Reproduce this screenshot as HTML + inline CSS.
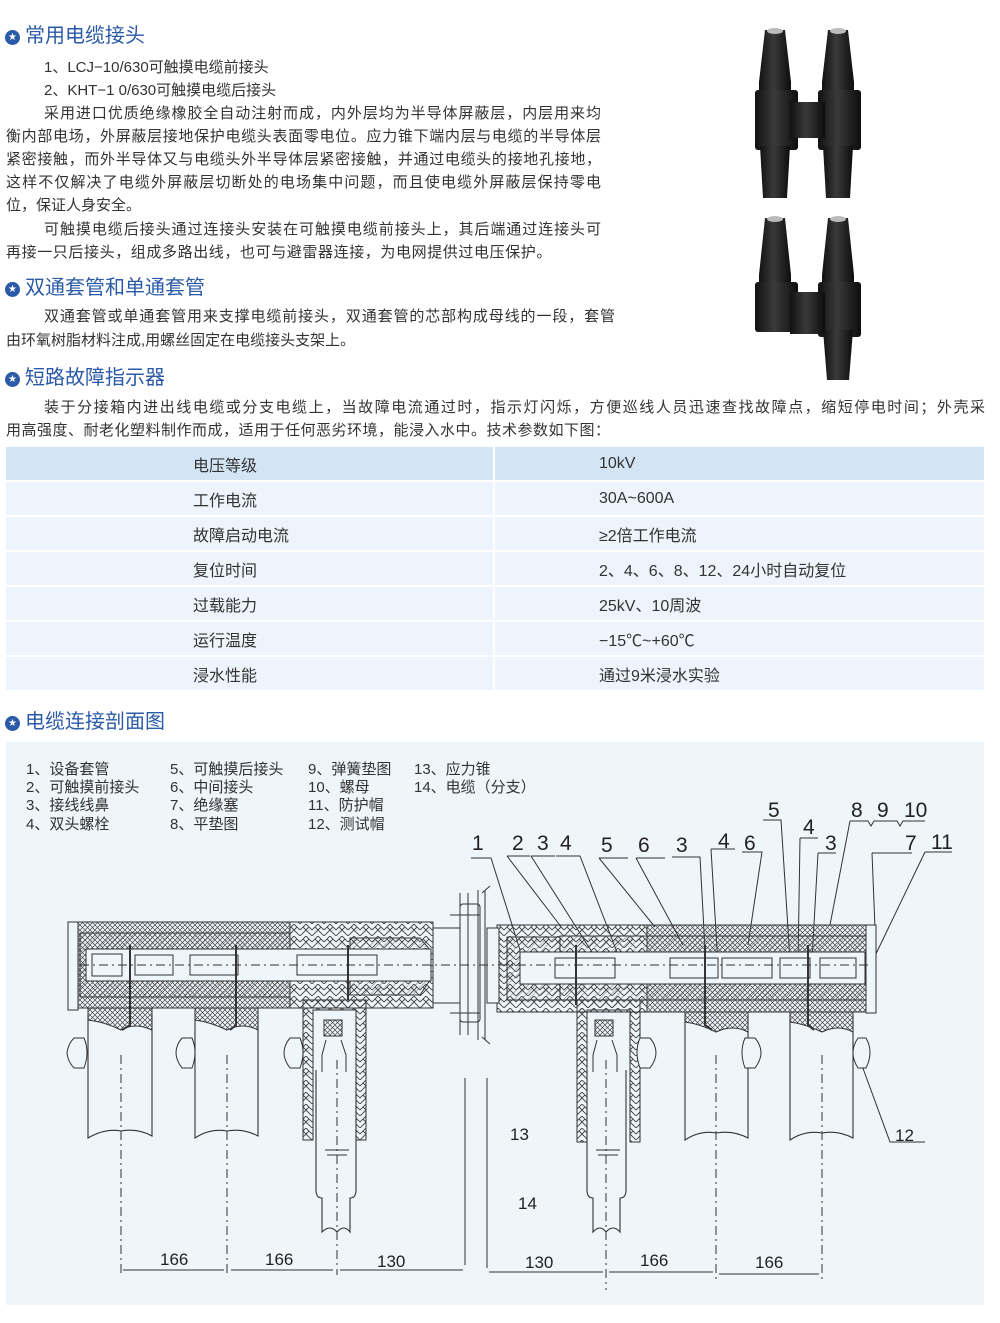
<!DOCTYPE html>
<html><head><meta charset="utf-8">
<style>
body{margin:0;background:#fff;width:1000px;height:1323px;overflow:hidden;position:relative;font-family:"Liberation Sans","Noto Sans CJK SC",sans-serif;color:#333;}
.h{position:absolute;left:5px;font-size:20px;color:#2b5aa8;line-height:24px;white-space:nowrap}
.h i{display:inline-block;width:15px;height:15px;border-radius:50%;background:#2b5aa8;color:#fff;font-style:normal;font-size:10px;line-height:15px;text-align:center;vertical-align:2px;margin-right:5px;font-family:"DejaVu Sans",sans-serif}
.l{position:absolute;font-size:15px;line-height:20px;white-space:nowrap}
.j{text-align:justify;text-align-last:justify;white-space:normal}
table{position:absolute;left:6px;top:447px;width:978px;border-collapse:collapse;font-size:16px;color:#333}
td{height:33px;background:#edf4fb;border-bottom:2px solid #fff;padding:0}
td.a{width:488px;border-right:2px solid #fff;padding-left:187px;box-sizing:border-box}
td.b{padding-left:104px}
tr.f td{background:#d3e4f5}
</style></head><body>
<div class="h" style="top:24px"><i>★</i>常用电缆接头</div>
<div class="l" style="left:44px;top:58px">1、LCJ−10/630可触摸电缆前接头</div>
<div class="l" style="left:44px;top:81px">2、KHT−1 0/630可触摸电缆后接头</div>
<div class="l j" style="left:44px;top:104px;width:557px">采用进口优质绝缘橡胶全自动注射而成，内外层均为半导体屏蔽层，内层用来均</div>
<div class="l j" style="left:6px;top:127px;width:595px">衡内部电场，外屏蔽层接地保护电缆头表面零电位。应力锥下端内层与电缆的半导体层</div>
<div class="l j" style="left:6px;top:150px;width:595px">紧密接触，而外半导体又与电缆头外半导体层紧密接触，并通过电缆头的接地孔接地，</div>
<div class="l j" style="left:6px;top:173px;width:595px">这样不仅解决了电缆外屏蔽层切断处的电场集中问题，而且使电缆外屏蔽层保持零电</div>
<div class="l" style="left:6px;top:196px">位，保证人身安全。</div>
<div class="l j" style="left:44px;top:220px;width:557px">可触摸电缆后接头通过连接头安装在可触摸电缆前接头上，其后端通过连接头可</div>
<div class="l" style="left:6px;top:243px;letter-spacing:0.6px">再接一只后接头，组成多路出线，也可与避雷器连接，为电网提供过电压保护。</div>
<div class="h" style="top:276px"><i>★</i>双通套管和单通套管</div>
<div class="l j" style="left:44px;top:307px;width:571px">双通套管或单通套管用来支撑电缆前接头，双通套管的芯部构成母线的一段，套管</div>
<div class="l" style="left:6px;top:331px">由环氧树脂材料注成,用螺丝固定在电缆接头支架上。</div>
<div class="h" style="top:366px"><i>★</i>短路故障指示器</div>
<div class="l j" style="left:44px;top:398px;width:941px">装于分接箱内进出线电缆或分支电缆上，当故障电流通过时，指示灯闪烁，方便巡线人员迅速查找故障点，缩短停电时间；外壳采</div>
<div class="l" style="left:6px;top:421px;letter-spacing:0.5px">用高强度、耐老化塑料制作而成，适用于任何恶劣环境，能浸入水中。技术参数如下图：</div>

<svg style="position:absolute;left:745px;top:20px" width="130" height="370" viewBox="0 0 130 370">
<defs><linearGradient id="g" x1="0" x2="1"><stop offset="0" stop-color="#111"/><stop offset=".45" stop-color="#3a3a3a"/><stop offset="1" stop-color="#0d0d0d"/></linearGradient></defs>
<g fill="url(#g)">
<path d="M20 10 L40 10 L46 62 L46 75 L14 75 L14 62 Z"/><path d="M83 10 L103 10 L109 62 L109 75 L77 75 L77 62 Z"/>
<rect x="10" y="70" width="43" height="60" rx="3"/><rect x="73" y="70" width="43" height="60" rx="3"/>
<rect x="45" y="82" width="35" height="36"/>
<path d="M15 126 L45 126 L42 178 L18 178 Z"/><path d="M78 126 L108 126 L105 178 L81 178 Z"/>
<path d="M20 198 L40 198 L46 255 L46 265 L14 265 L14 255 Z"/><path d="M83 198 L103 198 L109 255 L109 265 L77 265 L77 255 Z"/>
<rect x="10" y="262" width="43" height="50" rx="3"/><rect x="73" y="262" width="43" height="55" rx="3"/>
<rect x="45" y="272" width="35" height="42"/>
<path d="M78 310 L108 310 L104 360 L82 360 Z"/>
</g>
<ellipse cx="30" cy="11" rx="8" ry="3" fill="#bbb"/><ellipse cx="93" cy="11" rx="8" ry="3" fill="#bbb"/>
<ellipse cx="30" cy="199" rx="8" ry="3" fill="#bbb"/><ellipse cx="93" cy="199" rx="8" ry="3" fill="#bbb"/>
</svg>

<table>
<tr class="f"><td class="a">电压等级</td><td class="b">10kV</td></tr>
<tr><td class="a">工作电流</td><td class="b">30A~600A</td></tr>
<tr><td class="a">故障启动电流</td><td class="b">≥2倍工作电流</td></tr>
<tr><td class="a">复位时间</td><td class="b">2、4、6、8、12、24小时自动复位</td></tr>
<tr><td class="a">过载能力</td><td class="b">25kV、10周波</td></tr>
<tr><td class="a">运行温度</td><td class="b">−15℃~+60℃</td></tr>
<tr><td class="a">浸水性能</td><td class="b">通过9米浸水实验</td></tr>
</table>
<div class="h" style="top:710px"><i>★</i>电缆连接剖面图</div>

<svg style="position:absolute;left:0;top:0" width="1000" height="1323" viewBox="0 0 1000 1323">
<defs>
<pattern id="xh" width="5" height="5" patternUnits="userSpaceOnUse"><path d="M0 0L5 5M5 0L0 5" stroke="#444" stroke-width="0.7"/></pattern>
<pattern id="dh" width="5" height="5" patternUnits="userSpaceOnUse" patternTransform="rotate(45)"><path d="M0 0V5" stroke="#555" stroke-width="0.8"/></pattern>
<pattern id="hb" width="12" height="12" patternUnits="userSpaceOnUse"><path d="M0 6L6 0M6 0L12 6M0 12L6 6M6 6L12 12M3 3L6 6M9 3L6 6" stroke="#444" stroke-width="0.9" fill="none"/></pattern>
</defs>
<rect x="6" y="742" width="978" height="563" fill="#eef5fb"/>
<g font-size="15" fill="#333">
<text x="26" y="774">1、设备套管</text><text x="26" y="792">2、可触摸前接头</text><text x="26" y="810">3、接线线鼻</text><text x="26" y="829">4、双头螺栓</text>
<text x="170" y="774">5、可触摸后接头</text><text x="170" y="792">6、中间接头</text><text x="170" y="810">7、绝缘塞</text><text x="170" y="829">8、平垫图</text>
<text x="308" y="774">9、弹簧垫图</text><text x="308" y="792">10、螺母</text><text x="308" y="810">11、防护帽</text><text x="308" y="829">12、测试帽</text>
<text x="414" y="774">13、应力锥</text><text x="414" y="792">14、电缆（分支）</text>
</g>
<g font-size="21" fill="#222">
<text x="472" y="850">1</text><text x="512" y="850">2</text><text x="537" y="850">3</text><text x="560" y="850">4</text>
<text x="601" y="852">5</text><text x="638" y="852">6</text><text x="676" y="852">3</text><text x="718" y="848">4</text><text x="744" y="850">6</text>
<text x="768" y="817">5</text><text x="803" y="834">4</text><text x="825" y="850">3</text>
<text x="851" y="817">8</text><text x="877" y="817">9</text><text x="904" y="817">10</text>
<text x="905" y="850">7</text><text x="931" y="849">11</text>
</g>
<g font-size="17" fill="#222">
<text x="895" y="1141">12</text><text x="510" y="1140">13</text><text x="518" y="1209">14</text>
<text x="160" y="1265">166</text><text x="265" y="1265">166</text><text x="377" y="1267">130</text>
<text x="525" y="1268">130</text><text x="640" y="1266">166</text><text x="755" y="1268">166</text>
</g>
<g stroke="#333" stroke-width="1" fill="none">
<path d="M471 858H491L520 950M507 856H530M507 856L562 928M531 856H555M531 856L597 960M556 856H580L622 965M599 858H628M599 858L655 927M636 858H665M636 858L683 945M672 857H700L706 968M711 849H735M711 849L718 965M742 852H762L748 945"/>
<path d="M763 820H781L790 960M800 838H818M800 838L798 965M818 853H836M818 853L812 960M850 821L868 821L871 826L874 821L897 821L900 826L903 821L925 821M850 821L830 925M872 853H912M872 853L875 928M925 852H952M925 852L873 960"/>
<path d="M857 1052L890 1142H925"/>
</g>
<g stroke="#333" stroke-width="1.1" fill="#eef5fb">
<path d="M88 1015V1138Q105 1128 121 1131Q138 1128 152 1136V1015"/>
<path d="M195 1015V1138Q210 1128 227 1131Q243 1128 258 1136V1015"/>
<path d="M685 1015V1140Q700 1130 716 1133Q733 1130 748 1138V1015"/>
<path d="M790 1015V1140Q805 1130 822 1133Q838 1130 853 1138V1015"/>
<path d="M316 1070V1190Q316 1198 322 1198V1232Q330 1224 337 1232Q344 1224 350 1232V1198Q356 1198 356 1190V1070"/>
<path d="M587 1070V1190Q587 1198 593 1198V1232Q600 1224 606 1232Q613 1224 620 1232V1198Q626 1198 626 1190V1070"/>
</g>
<g stroke="#333" stroke-width="1">
<path d="M303 1000H366V1140H356V1010H313V1140H303Z" fill="url(#hb)"/>
<path d="M577 1000H640V1142H630V1010H587V1142H577Z" fill="url(#hb)"/>
<rect x="324" y="1020" width="18" height="16" fill="url(#xh)"/><rect x="595" y="1020" width="18" height="16" fill="url(#xh)"/>
<path d="M326 1040L322 1055V1072M341 1040L346 1055V1072M597 1040L593 1055V1072M612 1040L617 1055V1072" fill="none"/>
<path d="M325 1150H349M327 1155H347M596 1150H620M598 1155H618" fill="none"/>
</g>
<g stroke="#333" stroke-width="1">
<rect x="70" y="922" width="220" height="86" fill="url(#xh)"/>
<rect x="290" y="922" width="143" height="86" fill="url(#hb)"/>
<rect x="80" y="933" width="210" height="64" fill="url(#dh)"/>
<path d="M350 938H420L430 950V980L420 995H350Z" fill="url(#dh)"/>
<rect x="86" y="949" width="345" height="32" fill="#eef5fb"/>
<rect x="497" y="925" width="150" height="87" fill="url(#hb)"/>
<rect x="647" y="925" width="228" height="87" fill="url(#xh)"/>
<path d="M507 937H560V1000H507Z" fill="url(#dh)"/>
<rect x="560" y="936" width="306" height="64" fill="url(#dh)"/>
<rect x="520" y="952" width="345" height="32" fill="#eef5fb"/>
<rect x="68" y="922" width="10" height="88" fill="#eef5fb"/>
<rect x="866" y="925" width="10" height="88" fill="#eef5fb"/>
<rect x="433" y="928" width="27" height="75" fill="#eef5fb"/>
<rect x="487" y="928" width="12" height="75" fill="#eef5fb"/>
<path d="M460 893V1035M468 893V1035M478 890V1040M485 890V1040M450 915H480M450 1013H480M482 893L490 886M482 1037L490 1044" fill="none"/>
<rect x="460" y="904" width="20" height="118" rx="3" fill="none"/>
<path d="M88 1008H152V1030Q135 1022 121 1030Q105 1022 88 1020Z" fill="url(#xh)"/>
<path d="M195 1008H258V1030Q243 1022 227 1030Q210 1022 195 1020Z" fill="url(#xh)"/>
<path d="M685 1012H748V1032Q733 1024 716 1032Q700 1024 685 1022Z" fill="url(#xh)"/>
<path d="M790 1012H853V1032Q838 1024 822 1032Q805 1024 790 1022Z" fill="url(#xh)"/>
<g fill="#eef5fb">
<rect x="92" y="954" width="30" height="22"/><rect x="135" y="955" width="38" height="20"/><rect x="190" y="955" width="48" height="20"/><rect x="297" y="955" width="80" height="20"/>
<rect x="555" y="958" width="60" height="20"/><rect x="670" y="958" width="48" height="20"/><rect x="722" y="958" width="50" height="20"/><rect x="780" y="958" width="30" height="20"/><rect x="820" y="958" width="36" height="20"/>
</g>
<path d="M130 945V1025L122 1030M236 945V1025L230 1030M348 945V1000M576 945V1005M705 945V1025L712 1030M808 945V1025L814 1030" fill="none" stroke-width="2"/>
</g>
<g stroke="#333" stroke-width="1" fill="#eef5fb">
<path d="M74 1038H84Q90 1052 84 1068H74Q68 1062 67 1053Q68 1044 74 1038Z"/>
<path d="M182 1038H192Q198 1052 192 1068H182Q176 1060 176 1053Q176 1045 182 1038Z"/>
<path d="M290 1038H300Q306 1052 300 1068H290Q284 1060 284 1053Q284 1045 290 1038Z"/>
<path d="M650 1038H640Q634 1052 640 1068H650Q656 1060 656 1053Q656 1045 650 1038Z"/>
<path d="M755 1038H745Q739 1052 745 1068H755Q761 1060 761 1053Q761 1045 755 1038Z"/>
<path d="M858 1038H866Q874 1052 866 1068H858Q853 1060 853 1053Q853 1045 858 1038Z"/>
</g>
<g stroke="#333" stroke-width="1" fill="none" stroke-dasharray="9 4 2 4">
<path d="M80 965H870"/>
<path d="M121 1055V1275M227 1055V1275M337 1060V1275M606 1060V1290M716 1055V1280M822 1055V1280"/>
</g>
<g stroke="#333" stroke-width="1" fill="none">
<path d="M465 1078V1265M487 1078V1268"/>
<path d="M123 1270H224M231 1270H333M340 1270H463M489 1272H603M609 1272H713M719 1274H819"/>
</g>
</svg>
</body></html>
